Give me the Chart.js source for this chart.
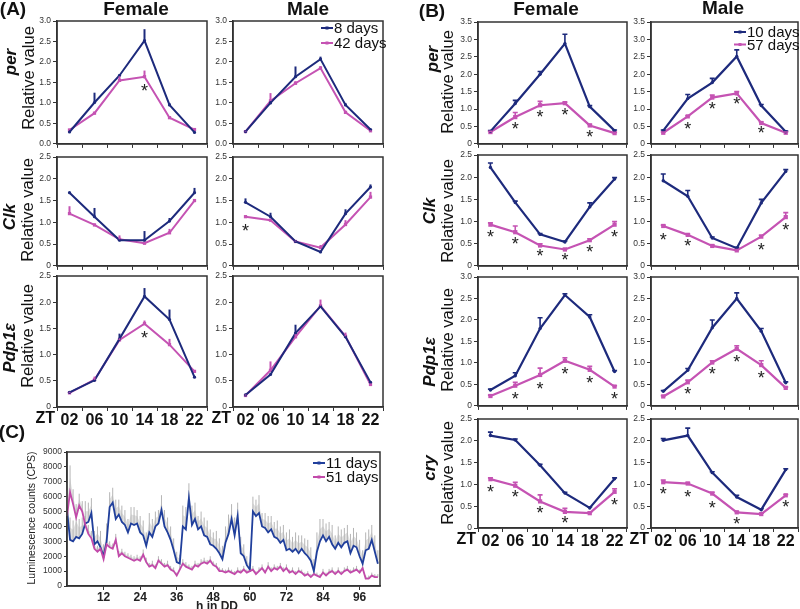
<!DOCTYPE html>
<html><head><meta charset="utf-8">
<script src="https://cdn.jsdelivr.net/npm/chart.js@4/dist/chart.umd.min.js"></script>
<style>
html,body{margin:0;padding:0;background:#fff;}
#root{position:relative;width:800px;height:609px;overflow:hidden;font-family:Arial,"Liberation Sans",sans-serif;color:#111;}
canvas{position:absolute;}
.c{position:absolute;white-space:nowrap;transform:translate(-50%,-50%);}
.v{position:absolute;white-space:nowrap;transform:translate(-50%,-50%) rotate(-90deg);}
</style></head><body><div id="root"></div>
<script>
// ---------- categories / tick labels ----------
const ztLabels = ['02','06','10','14','18','22'];
const cTicks = [12,24,36,48,60,72,84,96];

// ---------- Panel A (8 days vs 42 days) ----------
const aFemPer8 = [0.29,1.01,1.67,2.52,0.95,0.28];
const aFemPer8Err = [0.02,0.24,0.03,0.28,0.05,0.02];
const aFemPer42 = [0.34,0.75,1.55,1.64,0.64,0.35];
const aFemPer42Err = [0.02,0.03,0.10,0.15,0.03,0.02];
const aFemPerStars = [null,null,null,1.36,null,null];
const aMalPer8 = [0.30,1.00,1.64,2.07,0.95,0.35];
const aMalPer8Err = [0.02,0.04,0.25,0.06,0.05,0.02];
const aMalPer42 = [0.30,1.05,1.48,1.85,0.77,0.32];
const aMalPer42Err = [0.02,0.19,0.05,0.05,0.03,0.02];

const aFemClk8 = [1.68,1.13,0.59,0.59,1.03,1.68];
const aFemClk8Err = [0.02,0.20,0.03,0.21,0.07,0.11];
const aFemClk42 = [1.20,0.94,0.61,0.52,0.76,1.50];
const aFemClk42Err = [0.17,0.03,0.09,0.03,0.09,0.02];
const aMalClk8 = [1.46,1.13,0.56,0.32,1.20,1.81];
const aMalClk8Err = [0.09,0.09,0.02,0.02,0.10,0.06];
const aMalClk42 = [1.13,1.05,0.56,0.42,0.95,1.58];
const aMalClk42Err = [0.02,0.02,0.02,0.06,0.10,0.12];
const aMalClkStars = [0.88,null,null,null,null,null];

const aFemPdp8 = [0.28,0.51,1.30,2.11,1.67,0.57];
const aFemPdp8Err = [0.02,0.02,0.10,0.16,0.19,0.02];
const aFemPdp42 = [0.27,0.52,1.28,1.59,1.19,0.68];
const aFemPdp42Err = [0.02,0.06,0.03,0.06,0.11,0.02];
const aFemPdpStars = [null,null,null,1.38,null,null];
const aMalPdp8 = [0.23,0.62,1.41,1.92,1.34,0.47];
const aMalPdp8Err = [0.02,0.02,0.16,0.03,0.03,0.02];
const aMalPdp42 = [0.22,0.70,1.34,1.93,1.35,0.43];
const aMalPdp42Err = [0.02,0.17,0.05,0.12,0.07,0.02];

// ---------- Panel B (10 days vs 57 days) ----------
const bFemPer10 = [0.36,1.16,2.00,2.88,1.07,0.38];
const bFemPer10Err = [0.02,0.09,0.08,0.27,0.03,0.02];
const bFemPer57 = [0.34,0.77,1.11,1.17,0.53,0.31];
const bFemPer57Err = [0.02,0.13,0.11,0.03,0.03,0.02];
const bFemPerStars = [null,0.50,0.86,0.92,0.29,null];
const bMalPer10 = [0.38,1.30,1.76,2.51,1.10,0.35];
const bMalPer10Err = [0.02,0.12,0.12,0.19,0.03,0.02];
const bMalPer57 = [0.32,0.79,1.33,1.45,0.60,0.32];
const bMalPer57Err = [0.02,0.02,0.07,0.05,0.03,0.02];
const bMalPerStars = [null,0.50,1.09,1.24,0.39,null];

const bFemClk10 = [2.22,1.43,0.71,0.54,1.33,1.96];
const bFemClk10Err = [0.10,0.03,0.02,0.02,0.09,0.03];
const bFemClk57 = [0.93,0.76,0.46,0.37,0.58,0.93];
const bFemClk57Err = [0.04,0.14,0.04,0.02,0.03,0.07];
const bFemClkStars = [0.71,0.56,0.28,0.19,0.37,0.72];
const bMalClk10 = [1.92,1.57,0.63,0.40,1.42,2.13];
const bMalClk10Err = [0.15,0.13,0.02,0.02,0.08,0.04];
const bMalClk57 = [0.90,0.70,0.45,0.35,0.66,1.10];
const bMalClk57Err = [0.02,0.02,0.02,0.02,0.03,0.10];
const bMalClkStars = [0.66,0.51,null,null,0.43,0.88];

const bFemPdp10 = [0.37,0.70,1.80,2.58,2.07,0.80];
const bFemPdp10Err = [0.02,0.07,0.25,0.03,0.05,0.02];
const bFemPdp57 = [0.23,0.47,0.72,1.05,0.84,0.45];
const bFemPdp57Err = [0.02,0.08,0.16,0.07,0.08,0.02];
const bFemPdpStars = [null,0.24,0.47,0.82,0.60,0.24];
const bMalPdp10 = [0.34,0.83,1.82,2.50,1.74,0.54];
const bMalPdp10Err = [0.02,0.04,0.18,0.13,0.06,0.02];
const bMalPdp57 = [0.22,0.55,1.01,1.33,0.95,0.42];
const bMalPdp57Err = [0.02,0.05,0.04,0.07,0.10,0.02];
const bMalPdpStars = [null,0.34,0.80,1.10,0.72,null];

const bFemCry10 = [2.12,2.02,1.44,0.80,0.46,1.13];
const bFemCry10Err = [0.08,0.02,0.02,0.02,0.02,0.02];
const bFemCry57 = [1.12,0.97,0.61,0.37,0.34,0.83];
const bFemCry57Err = [0.03,0.08,0.15,0.08,0.02,0.07];
const bFemCryStars = [0.89,0.78,0.42,0.19,null,0.60];
const bMalCry10 = [2.01,2.12,1.27,0.71,0.42,1.34];
const bMalCry10Err = [0.04,0.17,0.02,0.04,0.02,0.02];
const bMalCry57 = [1.05,1.02,0.79,0.36,0.32,0.75];
const bMalCry57Err = [0.05,0.02,0.03,0.02,0.02,0.02];
const bMalCryStars = [0.84,0.78,0.53,0.17,null,0.55];

// ---------- Panel C (hours in DD, 11 days vs 51 days) ----------
const cHours = Array.from({length:103},(_,i)=>i);
const c11 = [5100,3100,3000,3300,3200,3500,4200,4300,4900,2800,
3000,2600,2000,3000,5300,5600,4500,4800,4300,4100,
3600,4200,4100,4200,3600,3400,2700,3600,3300,4000,
4200,5100,4000,3600,3100,2400,1600,1500,4000,3800,
5900,4100,4500,3800,4000,3400,3300,2800,2700,2500,
2200,1800,2900,3500,4500,3400,4700,2200,2000,1400,
1100,5000,4700,4900,4000,3900,3600,3800,3300,3200,
2900,3100,2400,2500,2300,2500,2200,2500,2200,2000,
1700,1000,2300,3000,3400,3000,3300,2800,2500,2900,
2600,2900,3000,2200,2700,2600,2000,1500,2400,2500,
3100,2300,1500];
const c11Err = [1800,1500,1400,1900,1300,1100,1500,1300,1000,900,
1000,1100,800,1200,1000,1000,1300,1000,1100,1000,
900,1100,1200,900,1100,1000,900,1300,1200,1000,
900,1000,1100,1000,900,800,700,600,1400,1500,
1000,1300,1100,900,1000,1200,1100,1000,900,1200,
1000,900,1100,1300,1000,1200,900,1100,800,600,
500,1000,1100,1200,900,1000,1100,900,1000,1200,
1100,1000,1200,1300,1000,1100,1200,900,1000,1100,
900,800,1300,1500,1100,1200,1000,1300,900,1100,
1200,1000,1100,1300,1200,1000,1100,900,1200,1300,
1000,1100,900];
const c51 = [4700,6300,5500,4600,5400,5000,4100,3500,3200,2500,
2300,2500,1800,2800,2600,2500,3100,2000,2200,2000,
1900,1800,1700,1800,1700,2100,1600,1300,1400,1200,
1700,1500,1300,1400,1100,1000,700,1100,1500,1300,
1200,1100,1400,1300,1500,1600,1500,1700,1400,1300,
1000,1000,900,1000,900,800,1000,900,1100,900,
1000,1100,800,1000,1200,900,1300,1000,1200,1100,
1300,1000,1200,900,1000,800,1000,900,700,800,
600,800,700,600,900,700,900,1000,800,1000,
800,1000,1100,900,1000,1100,900,1200,500,500,
700,600,600];
const c51Err = [1700,1800,1000,900,800,700,600,600,500,500,
400,400,450,400,400,350,400,350,300,300,
300,300,300,300,300,350,300,250,300,250,
300,300,250,300,250,250,200,300,300,300,
250,250,300,250,300,300,250,300,250,250,
250,200,200,250,200,200,250,200,250,200,
250,250,200,250,250,200,300,250,250,250,
250,250,250,200,250,200,250,200,200,200,
200,200,200,200,250,200,250,250,200,250,
200,250,250,200,250,250,200,300,200,200,
200,200,200];

// ---------- styling ----------
const FONT = 'Arial, "Liberation Sans", sans-serif';
Chart.defaults.font.family = FONT;
const BLUE = '#1d2a7c', PINK = '#c553b3';
const CBLUE = '#203f9c', CPINK = '#c24aaa';
const root = document.getElementById('root');

function addText(txt, x, y, css, vertical){
  const d = document.createElement('div');
  d.className = vertical ? 'v' : 'c';
  d.textContent = txt;
  d.style.cssText = css + ';left:' + x + 'px;top:' + y + 'px;';
  root.appendChild(d);
}

const framePlugin = {id:'frame', afterDraw(chart){
  const {ctx, chartArea:a} = chart;
  ctx.save(); ctx.strokeStyle = '#333'; ctx.lineWidth = 1.5;
  ctx.strokeRect(a.left, a.top, a.right - a.left, a.bottom - a.top);
  ctx.restore();
}};
const errPlugin = {id:'errbars', afterDatasetsDraw(chart, args, o){
  const ys = chart.scales.y, ctx = chart.ctx;
  chart.data.datasets.forEach((ds, i) => {
    if (!ds.errors) return;
    const meta = chart.getDatasetMeta(i);
    ctx.save(); ctx.strokeStyle = ds.borderColor; ctx.lineWidth = o.width || 2;
    meta.data.forEach((pt, j) => {
      const e = ds.errors[j]; if (!e) return;
      const yt = ys.getPixelForValue(ds.data[j] + e);
      ctx.beginPath(); ctx.moveTo(pt.x, pt.y); ctx.lineTo(pt.x, yt);
      if (o.cap) { ctx.moveTo(pt.x - o.cap, yt); ctx.lineTo(pt.x + o.cap, yt); }
      ctx.stroke();
    });
    ctx.restore();
  });
}};
const starPlugin = {id:'stars', afterDatasetsDraw(chart, args, o){
  if (!o.values) return;
  const {ctx} = chart, xs = chart.scales.x, ys = chart.scales.y;
  ctx.save(); ctx.fillStyle = '#222'; ctx.font = '18px ' + FONT;
  ctx.textAlign = 'center'; ctx.textBaseline = 'middle';
  o.values.forEach((v, j) => { if (v == null) return;
    ctx.fillText('*', xs.getPixelForValue(j), ys.getPixelForValue(v) + 4); });
  ctx.restore();
}};
const legendPlugin = {id:'mini', afterDraw(chart, args, o){
  if (o.dx == null) return;
  const {ctx, chartArea:a} = chart;
  ctx.save(); ctx.font = o.size + 'px ' + FONT; ctx.textBaseline = 'middle'; ctx.textAlign = 'left';
  chart.data.datasets.forEach((ds, i) => {
    const x = a.right + o.dx, y = a.top + o.dy + i * o.gap;
    ctx.strokeStyle = ds.borderColor; ctx.lineWidth = 2;
    ctx.beginPath(); ctx.moveTo(x, y); ctx.lineTo(x + 12, y); ctx.stroke();
    ctx.fillStyle = ds.borderColor; ctx.fillRect(x + 4.5, y - 1.5, 3, 3);
    ctx.fillStyle = '#111'; ctx.fillText(ds.label, x + 13, y + 1);
  });
  ctx.restore();
}};
const ztPlugin = {id:'zt', afterDraw(chart, args, o){
  if (!o.text) return;
  const {ctx, chartArea:a} = chart;
  ctx.save(); ctx.font = 'bold 16px ' + FONT; ctx.fillStyle = '#111';
  ctx.textAlign = 'right'; ctx.textBaseline = 'top';
  ctx.fillText(o.text, a.left - 2, a.bottom + 4 + (o.pad || 0));
  ctx.restore();
}};

function ser(label, data, err, color, ps, pr){ return {label, data, err, color, ps, pr}; }

function small(rect, sets, o){
  const YW = 34, PT = 8, PR = 4, XH = o.showX ? 30 : 6;
  const c = document.createElement('canvas');
  const w = rect.r - rect.l + YW + PR, h = rect.b - rect.t + PT + XH;
  c.width = w; c.height = h;
  c.style.left = (rect.l - YW) + 'px'; c.style.top = (rect.t - PT) + 'px';
  root.appendChild(c);
  new Chart(c, {
    type: 'line',
    data: { labels: ztLabels, datasets: sets.map(s => ({
      label: s.label, data: s.data, errors: s.err, borderColor: s.color, backgroundColor: s.color,
      borderWidth: o.lw || 2, pointStyle: s.ps, pointRadius: s.pr, pointBorderWidth: 0, tension: 0 })) },
    options: {
      responsive: false, animation: false, events: [],
      layout: { padding: { top: PT, right: PR, left: 0, bottom: 0 } },
      plugins: { legend: { display: false }, tooltip: { enabled: false },
        errbars: o.err, stars: { values: o.stars }, mini: o.legend || {}, zt: { text: o.showX ? 'ZT' : null, pad: 0 } },
      scales: {
        x: { type: 'category', offset: true,
          grid: { offset: true, drawOnChartArea: false, tickLength: 4, color: '#333', lineWidth: 1 },
          border: { color: '#333', width: 1.5 },
          ticks: { display: !!o.showX, font: { size: 16, weight: 'bold' }, color: '#111', padding: 0, maxRotation: 0, autoSkip: false },
          afterFit: s => { s.height = XH; } },
        y: { min: 0, max: o.yMax,
          grid: { drawOnChartArea: false, tickLength: 4, color: '#333' },
          border: { color: '#333', width: 1.5 },
          ticks: { stepSize: 0.5, font: { size: 8.5 }, color: '#333', padding: 2,
            callback: v => v === 0 ? o.zero : Number(v).toFixed(1) },
          afterFit: s => { s.width = YW; } }
      }
    },
    plugins: [framePlugin, errPlugin, starPlugin, legendPlugin, ztPlugin]
  });
}

// ---- Panel A ----
const errA = { width: 2, cap: 0 };
const colA = { F: { l: 57, r: 207 }, M: { l: 233, r: 383 } };
small({ ...colA.F, t: 21, b: 145 }, [ser('8 days', aFemPer8, aFemPer8Err, BLUE, 'circle', 1.6), ser('42 days', aFemPer42, aFemPer42Err, PINK, 'rect', 2.3)],
  { yMax: 3, zero: '0.0', stars: aFemPerStars, err: errA });
small({ ...colA.M, t: 21, b: 145 }, [ser('8 days', aMalPer8, aMalPer8Err, BLUE, 'circle', 1.6), ser('42 days', aMalPer42, aMalPer42Err, PINK, 'rect', 2.3)],
  { yMax: 3, zero: '0.0', err: errA, legend: { dx: -62, dy: 7, gap: 15, size: 15 } });
small({ ...colA.F, t: 157, b: 267 }, [ser('8 days', aFemClk8, aFemClk8Err, BLUE, 'circle', 1.6), ser('42 days', aFemClk42, aFemClk42Err, PINK, 'rect', 2.3)],
  { yMax: 2.5, zero: '0', err: errA });
small({ ...colA.M, t: 157, b: 267 }, [ser('8 days', aMalClk8, aMalClk8Err, BLUE, 'circle', 1.6), ser('42 days', aMalClk42, aMalClk42Err, PINK, 'rect', 2.3)],
  { yMax: 2.5, zero: '0', stars: aMalClkStars, err: errA });
small({ ...colA.F, t: 276, b: 407 }, [ser('8 days', aFemPdp8, aFemPdp8Err, BLUE, 'circle', 1.6), ser('42 days', aFemPdp42, aFemPdp42Err, PINK, 'rect', 2.3)],
  { yMax: 2.5, zero: '0', stars: aFemPdpStars, err: errA, showX: true });
small({ ...colA.M, t: 276, b: 407 }, [ser('8 days', aMalPdp8, aMalPdp8Err, BLUE, 'circle', 1.6), ser('42 days', aMalPdp42, aMalPdp42Err, PINK, 'rect', 2.3)],
  { yMax: 2.5, zero: '0', err: errA, showX: true });

// ---- Panel B ----
const errB = { width: 1.6, cap: 2.5 };
const colB = { F: { l: 478, r: 627 }, M: { l: 651, r: 798 } };
const bs = (d, e, lbl) => ser(lbl, d, e, lbl === '10 days' ? BLUE : PINK, lbl === '10 days' ? 'circle' : 'rect', lbl === '10 days' ? 1.7 : 3);
small({ ...colB.F, t: 22, b: 145 }, [bs(bFemPer10, bFemPer10Err, '10 days'), bs(bFemPer57, bFemPer57Err, '57 days')],
  { yMax: 3.5, zero: '0', stars: bFemPerStars, err: errB, lw: 2.2 });
small({ ...colB.M, t: 22, b: 145 }, [bs(bMalPer10, bMalPer10Err, '10 days'), bs(bMalPer57, bMalPer57Err, '57 days')],
  { yMax: 3.5, zero: '0', stars: bMalPerStars, err: errB, lw: 2.2, legend: { dx: -64, dy: 10, gap: 12.5, size: 15 } });
small({ ...colB.F, t: 155, b: 267 }, [bs(bFemClk10, bFemClk10Err, '10 days'), bs(bFemClk57, bFemClk57Err, '57 days')],
  { yMax: 2.5, zero: '0', stars: bFemClkStars, err: errB, lw: 2.2 });
small({ ...colB.M, t: 155, b: 267 }, [bs(bMalClk10, bMalClk10Err, '10 days'), bs(bMalClk57, bMalClk57Err, '57 days')],
  { yMax: 2.5, zero: '0', stars: bMalClkStars, err: errB, lw: 2.2 });
small({ ...colB.F, t: 277, b: 407 }, [bs(bFemPdp10, bFemPdp10Err, '10 days'), bs(bFemPdp57, bFemPdp57Err, '57 days')],
  { yMax: 3, zero: '0', stars: bFemPdpStars, err: errB, lw: 2.2 });
small({ ...colB.M, t: 277, b: 407 }, [bs(bMalPdp10, bMalPdp10Err, '10 days'), bs(bMalPdp57, bMalPdp57Err, '57 days')],
  { yMax: 3, zero: '0', stars: bMalPdpStars, err: errB, lw: 2.2 });
small({ ...colB.F, t: 419, b: 528 }, [bs(bFemCry10, bFemCry10Err, '10 days'), bs(bFemCry57, bFemCry57Err, '57 days')],
  { yMax: 2.5, zero: '0', stars: bFemCryStars, err: errB, lw: 2.2, showX: true });
small({ ...colB.M, t: 419, b: 528 }, [bs(bMalCry10, bMalCry10Err, '10 days'), bs(bMalCry57, bMalCry57Err, '57 days')],
  { yMax: 2.5, zero: '0', stars: bMalCryStars, err: errB, lw: 2.2, showX: true });

// ---- Panel C ----
(function(){
  const rect = { l: 67, r: 380, t: 452, b: 586 };
  const YW = 34, PT = 8, PR = 4, XH = 20;
  const c = document.createElement('canvas');
  c.width = rect.r - rect.l + YW + PR; c.height = rect.b - rect.t + PT + XH;
  c.style.left = (rect.l - YW) + 'px'; c.style.top = (rect.t - PT) + 'px';
  root.appendChild(c);
  const cErr = { id: 'cerr', beforeDatasetsDraw(chart){
    const ctx = chart.ctx, xs = chart.scales.x, ys = chart.scales.y;
    ctx.save();
    chart.data.datasets.forEach(ds => {
      const pts = ds.data;
      ctx.fillStyle = '#e0e0e0';
      ctx.beginPath();
      pts.forEach((p, j) => { const X = xs.getPixelForValue(p.x), Y = ys.getPixelForValue(p.y + ds.errors[j] * 0.55); j ? ctx.lineTo(X, Y) : ctx.moveTo(X, Y); });
      for (let j = pts.length - 1; j >= 0; j--) ctx.lineTo(xs.getPixelForValue(pts[j].x), ys.getPixelForValue(pts[j].y));
      ctx.closePath(); ctx.fill();
      ctx.strokeStyle = '#b5b5b5'; ctx.lineWidth = 1;
      pts.forEach((p, j) => {
        const X = xs.getPixelForValue(p.x);
        ctx.beginPath(); ctx.moveTo(X, ys.getPixelForValue(p.y)); ctx.lineTo(X, ys.getPixelForValue(p.y + ds.errors[j])); ctx.stroke();
      });
    });
    ctx.restore();
  }};
  new Chart(c, {
    type: 'line',
    data: { datasets: [
      { label: '11 days', data: cHours.map((h, i) => ({ x: h, y: c11[i] })), errors: c11Err, borderColor: CBLUE, backgroundColor: CBLUE, borderWidth: 1.8, pointRadius: 0, tension: 0, order: 1 },
      { label: '51 days', data: cHours.map((h, i) => ({ x: h, y: c51[i] })), errors: c51Err, borderColor: CPINK, backgroundColor: CPINK, borderWidth: 1.8, pointRadius: 0, tension: 0, order: 0 }
    ] },
    options: {
      responsive: false, animation: false, events: [],
      layout: { padding: { top: PT, right: PR, left: 0, bottom: 0 } },
      plugins: { legend: { display: false }, tooltip: { enabled: false }, mini: { dx: -67, dy: 11, gap: 14, size: 15 } },
      scales: {
        x: { type: 'linear', min: 0, max: 102.7,
          afterBuildTicks: s => { s.ticks = cTicks.map(v => ({ value: v })); },
          grid: { drawOnChartArea: false, tickLength: 4, color: '#333' },
          border: { color: '#333', width: 1.5 },
          ticks: { font: { size: 12, weight: 'bold' }, color: '#222', padding: 0, maxRotation: 0, autoSkip: false, callback: v => String(v) },
          afterFit: s => { s.height = XH; } },
        y: { min: 0, max: 9000,
          grid: { drawOnChartArea: false, tickLength: 3, color: '#333' },
          border: { color: '#333', width: 1.5 },
          ticks: { stepSize: 1000, font: { size: 8.5 }, color: '#333', padding: 2, callback: v => String(v) },
          afterFit: s => { s.width = YW; } }
      }
    },
    plugins: [cErr, framePlugin, legendPlugin]
  });
})();

// ---- Text: panel letters, column titles, axis titles ----
const H = 'font-weight:bold;font-size:19px;color:#111';
addText('(A)', 13, 9, H);
addText('Female', 136, 9, H);
addText('Male', 308, 9, H);
addText('(B)', 432, 11, H);
addText('Female', 546, 9, H);
addText('Male', 723, 8, H);
addText('(C)', 12, 432, H);

const G = 'font-weight:bold;font-style:italic;font-size:17px;color:#111';
const R = 'font-size:16.5px;color:#111';
addText('per', 11, 62, G, true);   addText('Relative value', 28, 78, R, true);
addText('Clk', 10, 217, G, true);  addText('Relative value', 27, 210, R, true);
addText('Pdp1ε', 10, 348, G, true); addText('Relative value', 27, 336, R, true);
addText('per', 433, 59, G, true);  addText('Relative value', 447, 82, R, true);
addText('Clk', 430, 211, G, true); addText('Relative value', 447, 211, R, true);
addText('Pdp1ε', 430, 362, G, true); addText('Relative value', 447, 340, R, true);
addText('cry', 430, 468, G, true); addText('Relative value', 447, 473, R, true);

addText('Luminescence counts (CPS)', 31, 518, 'font-size:10.5px;color:#222', true);
addText('h in DD', 217, 606, 'font-weight:bold;font-size:12px;color:#222');
</script></body></html>
